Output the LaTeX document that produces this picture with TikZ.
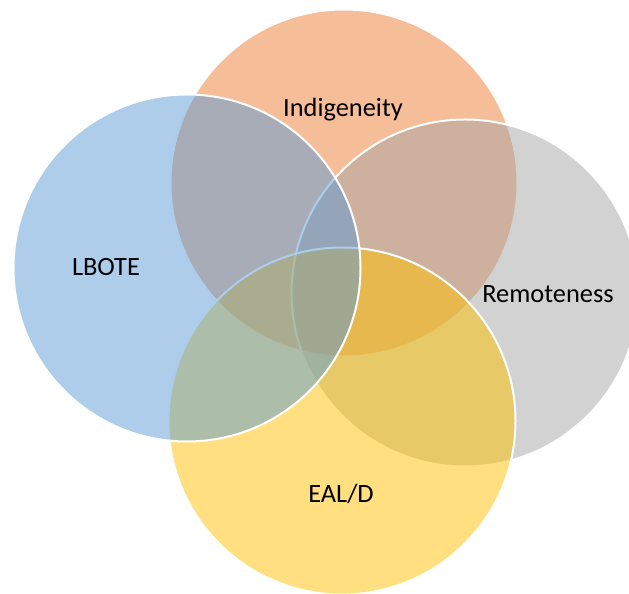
\documentclass[tikz,border=0pt]{standalone}
\usepackage{fontspec}
\setmainfont{Carlito}
\usepackage{xcolor}
\usepackage{tikz}
\definecolor{cBlue}{HTML}{5B9BD5}
\definecolor{cOrange}{HTML}{ED7D31}
\definecolor{cGray}{HTML}{A5A5A5}
\definecolor{cGold}{HTML}{FFC000}

\begin{document}
\begin{tikzpicture}[
  x=1pt, y=1pt,
  set/.style={
    circle, draw=white, line width=2pt,
    fill opacity=0.5, draw opacity=1,
    inner sep=0pt, minimum size=347pt,
  },
  setname/.style={
    font=\fontsize{26.4}{30}\selectfont, text=black, inner sep=0pt,
  },
]
\useasboundingbox (0,0) rectangle (629,594);

% ─── SETS ───
\node[set, fill=cOrange] (indig) at (344,411) {};
\node[set, fill=cGray] (remote) at (465,301) {};
\node[set, fill=cGold] (eald) at (342,173) {};
\node[set, fill=cBlue] (lbote) at (187,326) {};
%
% ─── NAMES ───
\node[setname] (indigName) at (343,484) {Indigeneity};
\node[setname] (remoteName) at (548,300) {Remoteness};
\node[setname] (ealdName) at (341,100) {EAL/D};
\node[setname] (loteName) at (106,327) {LBOTE};

\end{tikzpicture}
\end{document}
